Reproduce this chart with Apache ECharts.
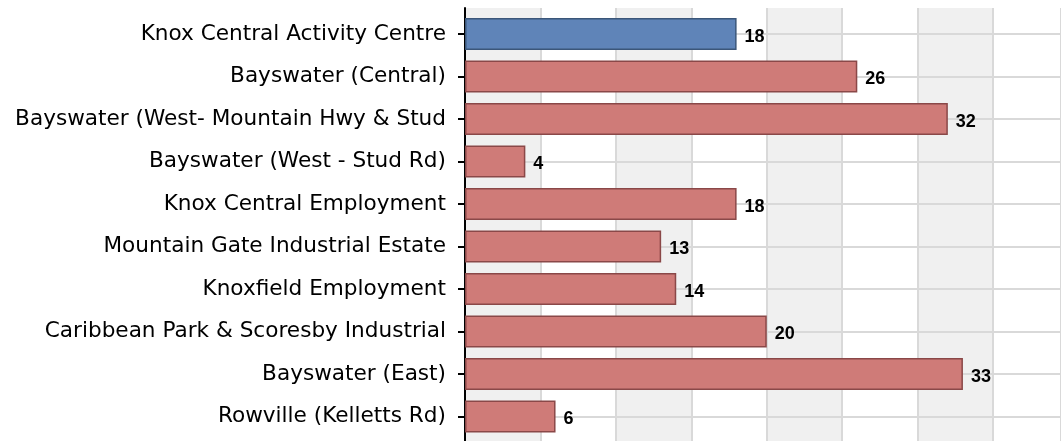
<!DOCTYPE html>
<html>
<head>
<meta charset="utf-8">
<script src="https://cdn.jsdelivr.net/npm/echarts@6/dist/echarts.min.js"></script>
<style>
  html, body { margin: 0; padding: 0; background: #fff; }
  #chart { width: 1061px; height: 441px; }
</style>
</head>
<body>
<div id="chart"></div>
<script>
// categories top to bottom
const categories = [
  'Knox Central Activity Centre',
  'Bayswater (Central)',
  'Bayswater (West- Mountain Hwy & Stud',
  'Bayswater (West - Stud Rd)',
  'Knox Central Employment',
  'Mountain Gate Industrial Estate',
  'Knoxfield Employment',
  'Caribbean Park & Scoresby Industrial',
  'Bayswater (East)',
  'Rowville (Kelletts Rd)'
]
const values = [18, 26, 32, 4, 18, 13, 14, 20, 33, 6]
const highlight = ['Knox Central Activity Centre']

const blue = { color: '#5f84b8', borderColor: '#3b5679', borderWidth: 1.5 }
const red = { color: '#cf7b78', borderColor: '#8a4848', borderWidth: 1.5 }

const chart = echarts.init(document.getElementById('chart'))

const xMax = 39.5
const font = 'DejaVu Sans, Liberation Sans, sans-serif'

chart.setOption({
  animation: false,
  grid: [
    // background panel (extends a bit beyond the category bands)
    { left: 465, right: 0, top: 8, bottom: 0 },
    // data panel
    { left: 465, right: 0, top: 12.75, bottom: 3.25 }
  ],
  xAxis: [
    {
      gridIndex: 0, type: 'value', min: 0, max: xMax, interval: 5,
      axisLine: { show: false }, axisTick: { show: false }, axisLabel: { show: false },
      splitLine: { show: true, lineStyle: { color: '#d9d9d9', width: 2 } },
      splitArea: { show: true, areaStyle: { color: ['#f0f0f0', '#ffffff'] } }
    },
    {
      gridIndex: 1, type: 'value', min: 0, max: xMax, interval: 5,
      axisLine: { show: false }, axisTick: { show: false }, axisLabel: { show: false },
      splitLine: { show: false }
    }
  ],
  yAxis: [
    {
      gridIndex: 0, type: 'category', data: [''], inverse: true,
      axisLine: { show: true, lineStyle: { color: '#000', width: 2 } },
      axisTick: { show: false }, axisLabel: { show: false }, splitLine: { show: false }
    },
    {
      gridIndex: 1, type: 'category', data: categories, inverse: true,
      axisLine: { show: false },
      axisTick: { show: true, alignWithLabel: true, length: 7, lineStyle: { color: '#000', width: 2 } },
      axisLabel: { color: '#000', fontSize: 21.6, fontFamily: font, margin: 19, padding: [6, 0, 0, 0] },
      splitLine: { show: false }
    }
  ],
  series: [
    {
      // horizontal grid lines through category centres
      type: 'line', xAxisIndex: 1, yAxisIndex: 1, data: [], silent: true,
      markLine: {
        symbol: 'none', silent: true, z: 1, label: { show: false },
        lineStyle: { color: '#d9d9d9', width: 2, type: 'solid' },
        data: categories.map(c => ({ yAxis: c }))
      },
      z: 1
    },
    {
      type: 'bar', xAxisIndex: 1, yAxisIndex: 1, barWidth: 32, z: 3,
      data: categories.map((c, i) => ({
        value: values[i],
        itemStyle: highlight.includes(c) ? blue : red
      })),
      label: {
        show: true, position: 'right', distance: 8, offset: [0, 3],
        color: '#000', fontSize: 18, fontWeight: 'bold',
        fontFamily: 'Liberation Sans, Arial, sans-serif'
      }
    }
  ]
})
</script>
</body>
</html>
